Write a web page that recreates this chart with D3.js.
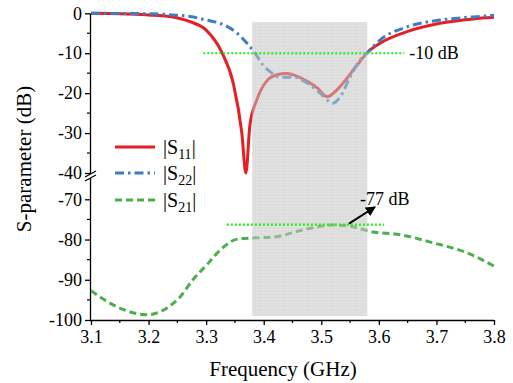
<!DOCTYPE html>
<html>
<head>
    <meta charset="UTF-8">
    <script src="https://d3js.org/d3.v7.min.js"></script>
</head>
<body style="margin:0">
<svg width="513" height="383"></svg>
<script>
    // frequency (GHz) / magnitude (dB)
    const s11Freq = [3.10, 3.15, 3.20, 3.237, 3.272, 3.30, 3.327, 3.347, 3.362, 3.369, 3.376, 3.388, 3.405, 3.423, 3.44, 3.475, 3.493, 3.51, 3.527, 3.545, 3.562, 3.581, 3.602, 3.649, 3.706, 3.764, 3.80];
    const s11Db   = [0, -0.1, -0.4, -0.8, -2.1, -4.2, -9.7, -17.5, -30, -40, -28, -21.7, -17, -15.4, -15.1, -17, -18.7, -20.9, -19.2, -16.2, -13, -9.7, -7.5, -4.6, -2.5, -1.4, -1.0];

    const s22Freq = [3.10, 3.20, 3.242, 3.272, 3.301, 3.324, 3.354, 3.371, 3.385, 3.399, 3.411, 3.428, 3.451, 3.475, 3.498, 3.52, 3.533, 3.55, 3.567, 3.581, 3.602, 3.649, 3.706, 3.764, 3.80];
    const s22Db   = [0, -0.1, -0.4, -0.8, -1.7, -2.5, -5, -7.5, -10, -13, -14.6, -16, -16, -17.4, -20, -22.5, -20.9, -16, -11.7, -9.7, -6.7, -3.4, -1.7, -0.9, -0.5];

    const s21Freq = [3.10, 3.145, 3.197, 3.232, 3.255, 3.277, 3.301, 3.329, 3.354, 3.381, 3.416, 3.468, 3.52, 3.55, 3.585, 3.637, 3.694, 3.753, 3.80];
    const s21Db   = [-92.7, -96.7, -98.7, -97, -94.2, -90, -86.3, -82, -79.9, -79.6, -79.4, -77.6, -76.4, -76.7, -78, -78.8, -80.8, -83.3, -86.6];

    const xTicks = [3.1, 3.2, 3.3, 3.4, 3.5, 3.6, 3.7, 3.8];
    const upperTicks = [0, -10, -20, -30, -40];
    const lowerTicks = [-70, -80, -90, -100];

    const band = [3.38, 3.58];          // shaded band
    const bandDb = [-2.2, -99];
    const ref10 = { db: -10, from: 3.295, to: 3.644, label: "-10 dB" };
    const ref77 = { db: -76.3, from: 3.336, to: 3.609, label: "-77 dB" };

    const serif = "'Liberation Serif', monospace";

    const svg = d3.select("svg");

    const x = d3.scaleLinear().domain([3.1, 3.8]).range([91, 494]);
    const yUp = d3.scaleLinear().domain([0, -40]).range([13.3, 173]);
    const yLo = d3.scaleLinear().domain([-70, -100]).range([199.3, 320]);
    const left = 90, bottom = 320, breakY = 176;

    // sets face and size on a text node, both as attribute and inline style
    function font(t, size) {
        t.attr("font-family", serif).attr("font-size", size)
            .style("font-family", serif).style("font-size", size + "px")
            .attr("fill", "black");
    }

    // curves
    const curves = [
        { name: "11", f: s11Freq, v: s11Db, y: yUp, color: "#e61e25", dash: null },
        { name: "22", f: s22Freq, v: s22Db, y: yUp, color: "#3d7ec1", dash: "9,4,2.5,4" },
        { name: "21", f: s21Freq, v: s21Db, y: yLo, color: "#4eae4b", dash: "7,4" }
    ];

    curves.forEach(c => {
        const line = d3.line()
            .x((d, i) => x(c.f[i]))
            .y(d => c.y(d))
            .curve(d3.curveMonotoneX);
        svg.append("path")
            .attr("d", line(c.v))
            .attr("fill", "none")
            .attr("stroke", c.color)
            .attr("stroke-width", 3)
            .attr("stroke-dasharray", c.dash);
    });

    // shaded band (drawn over the curves, semi transparent)
    const defs = svg.append("defs");
    const pat = defs.append("pattern")
        .attr("id", "grid")
        .attr("width", 3).attr("height", 3)
        .attr("patternUnits", "userSpaceOnUse");
    pat.append("rect").attr("width", 3).attr("height", 3).attr("fill", "#c9c9c9");
    pat.append("path").attr("d", "M0,0.5H3M0.5,0V3").attr("stroke", "#bcbcbc").attr("stroke-width", 0.6);

    svg.append("rect")
        .attr("x", x(band[0]))
        .attr("y", yUp(bandDb[0]))
        .attr("width", x(band[1]) - x(band[0]))
        .attr("height", yLo(bandDb[1]) - yUp(bandDb[0]))
        .attr("fill", "url(#grid)")
        .attr("opacity", 0.55);

    // reference lines
    [[ref10, yUp], [ref77, yLo]].forEach(([r, sc]) => {
        svg.append("line")
            .attr("x1", x(r.from)).attr("x2", x(r.to))
            .attr("y1", sc(r.db)).attr("y2", sc(r.db))
            .attr("stroke", "#22ee11")
            .attr("stroke-width", 2.2)
            .attr("stroke-dasharray", "2,2");
    });

    svg.append("text")
        .attr("x", x(ref10.to) + 5).attr("y", yUp(ref10.db) + 6)
        .call(font, 18)
        .text(ref10.label);

    // arrow for -77 dB
    defs.append("marker")
        .attr("id", "arrow")
        .attr("viewBox", "0 0 10 10")
        .attr("refX", 9).attr("refY", 5)
        .attr("markerWidth", 5).attr("markerHeight", 5)
        .attr("orient", "auto")
        .append("path").attr("d", "M0,0L10,5L0,10z").attr("fill", "black");

    svg.append("line")
        .attr("x1", 349).attr("y1", yLo(ref77.db) - 1)
        .attr("x2", 375).attr("y2", 207)
        .attr("stroke", "black").attr("stroke-width", 2)
        .attr("marker-end", "url(#arrow)");

    svg.append("text")
        .attr("x", 360).attr("y", 205)
        .call(font, 18)
        .text(ref77.label);

    // axis line/tick styling
    function axisStyle(g) {
        g.attr("font-family", serif).attr("font-size", 18);
        g.selectAll("path, line").attr("stroke", "black").attr("stroke-width", 1.3);
        g.selectAll("text").call(font, 18);
    }

    // x axis
    const xAxis = svg.append("g")
        .attr("transform", `translate(0,${bottom})`)
        .call(d3.axisBottom(x).tickValues(xTicks).tickSize(5).tickPadding(5).tickFormat(d3.format(".1f")))
        .call(axisStyle);
    xAxis.select(".domain").attr("d", `M${left},0.5H${x(3.8)}`);
    xAxis.selectAll(".minor")
        .data(xTicks.slice(0, -1).map(d => d + 0.05))
        .enter().append("line")
        .attr("x1", d => x(d)).attr("x2", d => x(d))
        .attr("y1", 0).attr("y2", 3)
        .attr("stroke", "black").attr("stroke-width", 1.2);

    // y axes (broken)
    const fmt = d => String(d);
    const yAxisUp = svg.append("g")
        .attr("transform", `translate(${left},0)`)
        .call(d3.axisLeft(yUp).tickValues(upperTicks).tickSize(5).tickPadding(3).tickFormat(fmt))
        .call(axisStyle);
    yAxisUp.select(".domain").attr("d", `M0.5,${yUp(0)}V${breakY - 2}`);
    yAxisUp.selectAll(".minor")
        .data([-5, -15, -25, -35])
        .enter().append("line")
        .attr("x1", -3).attr("x2", 0)
        .attr("y1", d => yUp(d)).attr("y2", d => yUp(d))
        .attr("stroke", "black").attr("stroke-width", 1.2);

    const yAxisLo = svg.append("g")
        .attr("transform", `translate(${left},0)`)
        .call(d3.axisLeft(yLo).tickValues(lowerTicks).tickSize(5).tickPadding(3).tickFormat(fmt))
        .call(axisStyle);
    yAxisLo.select(".domain").attr("d", `M0.5,${breakY + 2}V${bottom}`);
    yAxisLo.selectAll(".minor")
        .data([-75, -85, -95])
        .enter().append("line")
        .attr("x1", -3).attr("x2", 0)
        .attr("y1", d => yLo(d)).attr("y2", d => yLo(d))
        .attr("stroke", "black").attr("stroke-width", 1.2);

    // break marks
    [-2, 2].forEach(o => {
        svg.append("line")
            .attr("x1", left - 5).attr("y1", breakY + o + 3)
            .attr("x2", left + 6).attr("y2", breakY + o - 3)
            .attr("stroke", "black").attr("stroke-width", 1.2);
    });

    // titles
    svg.append("text")
        .attr("x", 283).attr("y", 376)
        .attr("text-anchor", "middle")
        .call(font, 21)
        .text("Frequency (GHz)");

    svg.append("text")
        .attr("transform", "translate(31,159) rotate(-90)")
        .attr("text-anchor", "middle")
        .call(font, 21)
        .text("S-parameter (dB)");

    // legend
    const legend = svg.append("g");
    const legendY = [147, 173, 200];
    curves.forEach((c, i) => {
        legend.append("line")
            .attr("x1", 115).attr("x2", 155)
            .attr("y1", legendY[i]).attr("y2", legendY[i])
            .attr("stroke", c.color)
            .attr("stroke-width", 3)
            .attr("stroke-dasharray", c.dash);
        const t = legend.append("text")
            .attr("x", 163).attr("y", legendY[i] + 7)
            .call(font, 20);
        t.append("tspan").text("|S");
        t.append("tspan").attr("dy", 5).call(font, 14).text(c.name);
        t.append("tspan").attr("dy", -5).text("|");
    });
</script>
</body>
</html>
